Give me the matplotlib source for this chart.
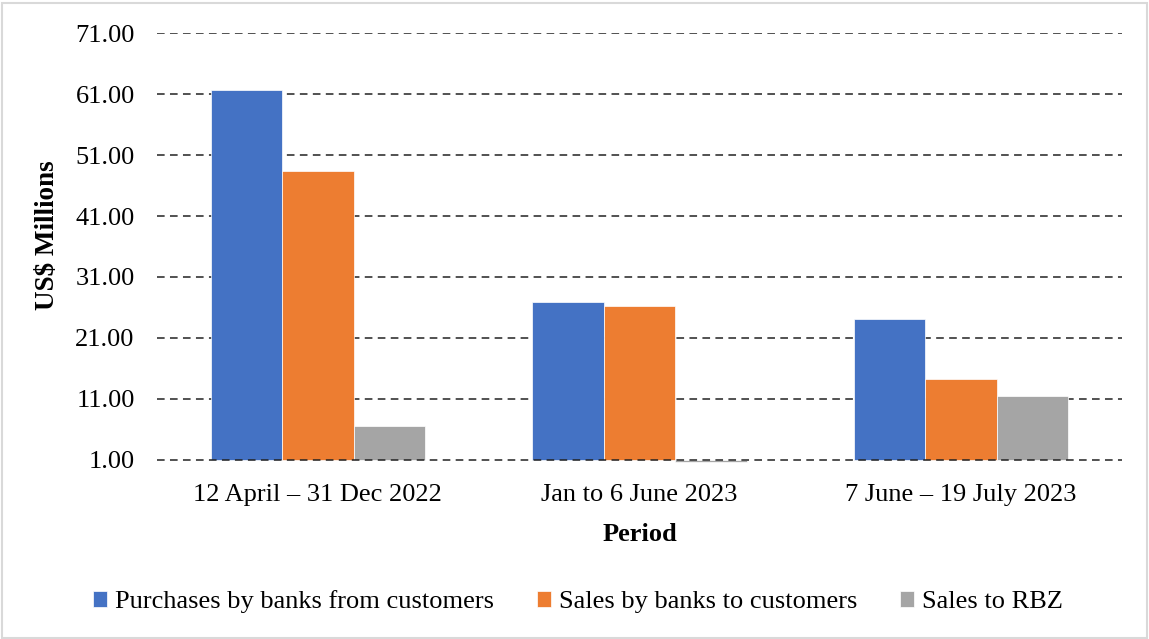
import numpy as np
import matplotlib
matplotlib.use("Agg")
import matplotlib.pyplot as plt
from matplotlib.patches import Rectangle

# foreign currency flows per period, US$ millions
periods = ["12 April \u2013 31 Dec 2022", "Jan to 6 June 2023", "7 June \u2013 19 July 2023"]
series_names = ["Purchases by banks from customers", "Sales by banks to customers", "Sales to RBZ"]
purchases = [61.6, 26.9, 24.1]
sales_customers = [48.3, 26.2, 14.3]
sales_rbz = [6.6, 0.65, 11.5]
colors = ["#4472C4", "#ED7D31", "#A5A5A5"]

y_min, y_max, y_step = 1.0, 71.0, 10.0
fs = 19

plt.rcParams["font.family"] = ["Liberation Serif", "DejaVu Serif"]

fig = plt.figure(figsize=(11.49, 6.39), dpi=100)
ax = fig.add_axes([0.1366, 0.2754, 0.8399, 0.6729])

x = np.arange(len(periods))
width = 0.222
for i, (vals, name, c) in enumerate(zip([purchases, sales_customers, sales_rbz], series_names, colors)):
    vals = np.asarray(vals)
    # bars start from the axis crossing at 1.00
    ax.bar(x + (i - 1) * width, vals - y_min, width, bottom=y_min, color=c,
           edgecolor="white", linewidth=0.5, label=name, zorder=3)

ax.set_xlim(-0.5, len(periods) - 0.5)
ax.set_ylim(y_min - 0.5, y_max)
ax.set_yticks(np.arange(y_min, y_max + 0.1, y_step))
ax.yaxis.set_major_formatter(matplotlib.ticker.FormatStrFormatter("%.2f"))
ax.set_xticks(x)
ax.set_xticklabels(periods)
ax.tick_params(axis="both", length=0, labelsize=fs, colors="black")
ax.tick_params(axis="x", pad=15)
ax.tick_params(axis="y", pad=16)

for v in np.arange(y_min, y_max + 0.1, y_step):
    ax.axhline(v, color="#222222", linewidth=1.1, linestyle=(0, (5, 3.5)), zorder=4 if v == y_min else 1)

for s in ax.spines.values():
    s.set_visible(False)

ax.set_ylabel("US$ Millions", fontsize=19.5, fontweight="bold")
ax.yaxis.set_label_coords(-0.100, 0.53)
ax.set_xlabel("Period", fontsize=fs, fontweight="bold", labelpad=12)

ax.legend(loc="center", bbox_to_anchor=(0.503, 0.058), bbox_transform=fig.transFigure,
          ncol=3, frameon=False, fontsize=fs, handlelength=0.55, handleheight=0.55,
          handletextpad=0.3, columnspacing=1.6)

fig.add_artist(Rectangle((0.002, 0.002), 0.996, 0.994, transform=fig.transFigure,
                         fill=False, edgecolor="#D9D9D9", linewidth=1.5))

fig.savefig("out.png", dpi=100)
